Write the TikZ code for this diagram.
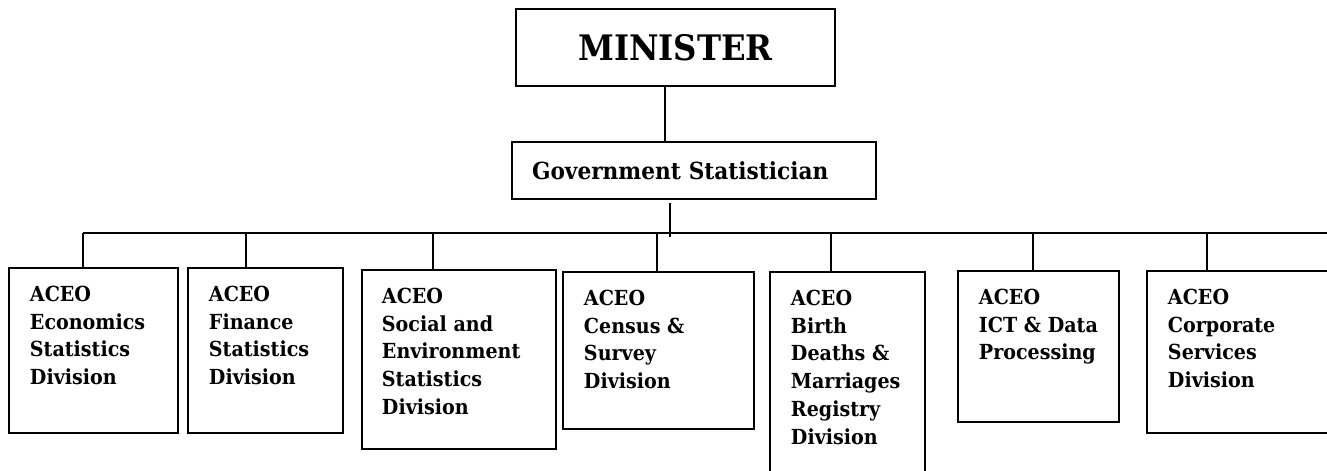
\documentclass[tikz,border=0pt]{standalone}
\usepackage{fontspec}
\setmainfont{DejaVu Serif}[FakeStretch=0.92]
\usetikzlibrary{positioning}

\begin{document}
\begin{tikzpicture}[line width=1.1pt,
  box/.style={draw, anchor=north west, inner sep=0pt},
  divtext/.style={align=left, inner sep=0pt, font=\fontsize{11.8}{15.8}\selectfont\bfseries},
  hdtext/.style={font=\fontsize{13.4}{15}\selectfont\bfseries}]
  \useasboundingbox (0,0) rectangle (26.54,9.40);
  \clip (0,0) rectangle (26.54,9.40);
  % ===================== top =====================
  \node[draw, minimum width=6.38cm, minimum height=1.54cm, font=\fontsize{20}{24}\selectfont\bfseries] (min) at (13.51,8.45) {MINISTER};
  \node[draw, hdtext, minimum width=7.28cm, minimum height=1.14cm, text width=6.48cm, inner xsep=0.40cm, align=left] (gov) at (13.88,5.99) {Government Statistician};
  % ===================== divisions =====================
  % economics
  \node[box, minimum width=3.38cm, minimum height=3.30cm] (econ) at (0.16,4.06) {};
  \node[divtext, below right=0.36cm and 0.42cm of econ.north west] (econ-t) {ACEO\\Economics\\Statistics\\Division};
  % finance
  \node[box, minimum width=3.10cm, minimum height=3.30cm] (fin) at (3.74,4.06) {};
  \node[divtext, below right=0.36cm and 0.42cm of fin.north west] (fin-t) {ACEO\\Finance\\Statistics\\Division};
  % social and environment
  \node[box, minimum width=3.88cm, minimum height=3.58cm] (soc) at (7.22,4.02) {};
  \node[divtext, below right=0.36cm and 0.40cm of soc.north west] (soc-t) {ACEO\\Social and\\Environment\\Statistics\\Division};
  % census
  \node[box, minimum width=3.82cm, minimum height=3.14cm] (cen) at (11.24,3.98) {};
  \node[divtext, below right=0.36cm and 0.42cm of cen.north west] (cen-t) {ACEO\\Census \&\\Survey\\Division};
  % births, deaths, marriages
  \node[box, minimum width=3.10cm, minimum height=4.40cm] (bdm) at (15.38,3.98) {};
  \node[divtext, below right=0.36cm and 0.42cm of bdm.north west] (bdm-t) {ACEO\\Birth\\Deaths \&\\Marriages\\Registry\\Division};
  % ict
  \node[box, minimum width=3.22cm, minimum height=3.02cm] (ict) at (19.14,4.00) {};
  \node[divtext, below right=0.36cm and 0.42cm of ict.north west] (ict-t) {ACEO\\ICT \& Data\\Processing};
  % corporate
  \node[box, minimum width=4.00cm, minimum height=3.24cm] (corp) at (22.92,4.00) {};
  \node[divtext, below right=0.36cm and 0.42cm of corp.north west] (corp-t) {ACEO\\Corporate\\Services\\Division};
  % ===================== lines =====================
  \coordinate (stem) at (13.30,0);
  \draw (stem |- min.south) -- (stem |- gov.north);
  \coordinate (drop) at (13.40,4.66);
  \draw ([yshift=-0.06cm]drop |- gov.south) -- (drop);
  \coordinate (bar-l) at (1.66,4.74);
  \coordinate (bar-r) at (26.60,4.74);
  \draw (bar-l) -- (bar-r);
  \draw (bar-l) -- (bar-l |- econ.north);
  \draw (4.92,4.74) -- (4.92,0 |- fin.north);
  \draw (8.66,4.74) -- (8.66,0 |- soc.north);
  \draw (13.14,4.74) -- (13.14,0 |- cen.north);
  \draw (16.62,4.74) -- (16.62,0 |- bdm.north);
  \draw (20.66,4.74) -- (20.66,0 |- ict.north);
  \draw (24.14,4.74) -- (24.14,0 |- corp.north);
\end{tikzpicture}
\end{document}
